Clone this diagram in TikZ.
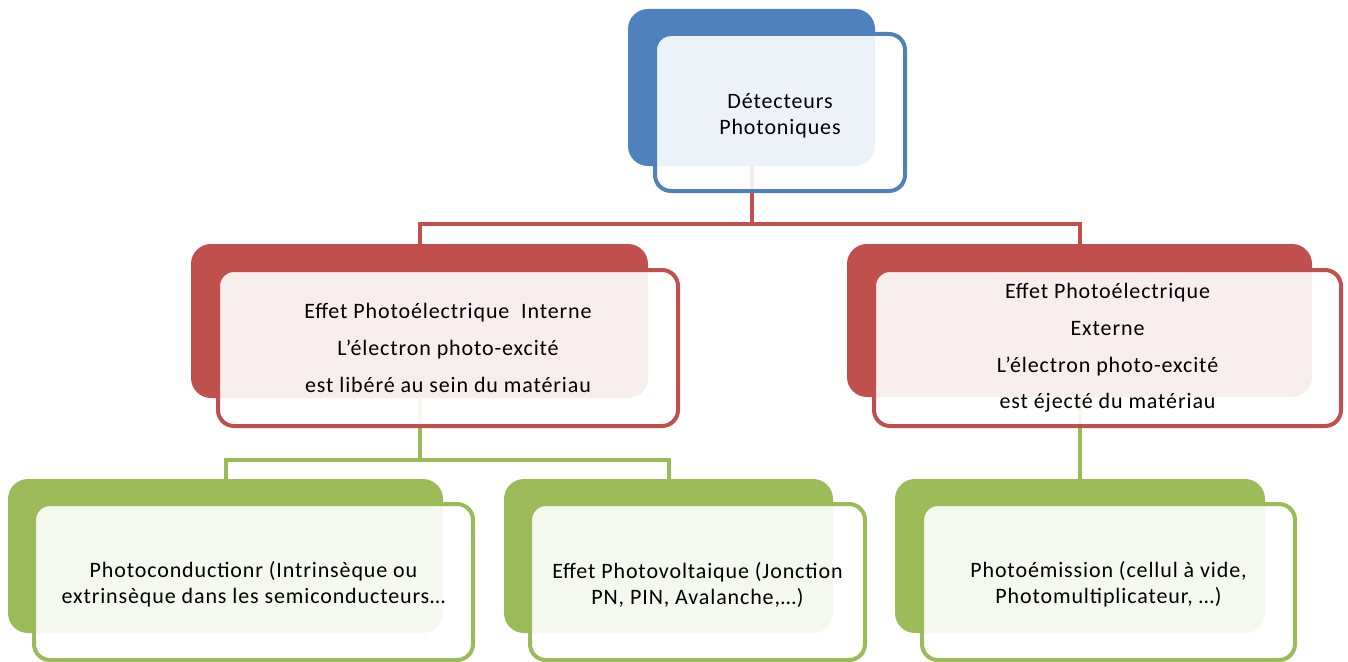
\documentclass[tikz,border=0pt]{standalone}
\usepackage{fontspec}
\setmainfont{Carlito}[LetterSpace=4]
\definecolor{cblue}{HTML}{4F81BD}
\definecolor{cred}{HTML}{C0504D}
\definecolor{cgreen}{HTML}{9BBB59}
\newcommand{\topstrut}{\rule{0pt}{21.5pt}}
\begin{document}
\begin{tikzpicture}[x=1pt,y=-1pt,
  backbox/.style={fill=#1, draw=none, rounded corners=20pt, outer sep=0pt, inner sep=0pt},
  frontbox/.style={draw=#1, line width=4pt, fill=white, fill opacity=0.9, text opacity=1,
    rounded corners=16pt, outer sep=0pt, align=center, text=black,
    font=\fontsize{22}{26}\selectfont},
  midtext/.style={font=\fontsize{22}{36.7}\selectfont},
  conn/.style={draw=#1, line width=4pt}]
\clip (0,0) rectangle (1348,661);
\fill[white] (0,0) rectangle (1348,661);
% coordinates for junctions
\coordinate (j1) at (751.5,224);
\coordinate (j2) at (419.5,460);
% back boxes
\node[backbox=cblue, minimum width=247pt, minimum height=157pt] (tb) at (751.5,87.5) {};
\node[backbox=cred, minimum width=457pt, minimum height=154pt] (lb) at (419.5,321) {};
\node[backbox=cred, minimum width=465pt, minimum height=153pt] (rb) at (1079.5,320.5) {};
\node[backbox=cgreen, minimum width=435pt, minimum height=154pt] (blb) at (225.5,556) {};
\node[backbox=cgreen, minimum width=329pt, minimum height=154pt] (bmb) at (668.5,556) {};
\node[backbox=cgreen, minimum width=370pt, minimum height=154pt] (brb) at (1080,556) {};
% connectors
\draw[conn=cred] (tb.south) -- (j1) -| (lb.north);
\draw[conn=cred] (j1) -| (rb.north);
\draw[conn=cgreen] (lb.south) -- (j2) -| (blb.north);
\draw[conn=cgreen] (j2) -| (bmb.north);
\draw[conn=cgreen] (rb.south) -- (rb.south |- brb.north);
% front boxes
\node[frontbox=cblue, minimum width=250pt, minimum height=157pt] (tf) at (780,112.5)
  {\topstrut D\'etecteurs\\Photoniques};
\node[frontbox=cred, midtext, minimum width=460pt, minimum height=156pt] (lf) at (448,348)
  {Effet Photo\'electrique\ \ Interne\\L’\'electron photo-excit\'e\\est lib\'er\'e au sein du mat\'eriau};
\node[frontbox=cred, midtext, minimum width=467pt, minimum height=156pt] (rf) at (1107.5,348)
  {Effet Photo\'electrique\\Externe\\L’\'electron photo-excit\'e\\est \'eject\'e du mat\'eriau};
\node[frontbox=cgreen, minimum width=439pt, minimum height=156pt] (blf) at (253.5,582)
  {\topstrut Photoconductionr (Intrins\`eque ou\\extrins\`eque dans les semiconducteurs…};
\node[frontbox=cgreen, minimum width=335pt, minimum height=156pt] (bmf) at (697.5,582)
  {\topstrut Effet Photovoltaique (Jonction\\PN, PIN, Avalanche,…)};
\node[frontbox=cgreen, minimum width=373pt, minimum height=156pt] (brf) at (1108.5,582)
  {\topstrut Photo\'emission (cellul \`a vide,\\Photomultiplicateur, …)};
\end{tikzpicture}
\end{document}
